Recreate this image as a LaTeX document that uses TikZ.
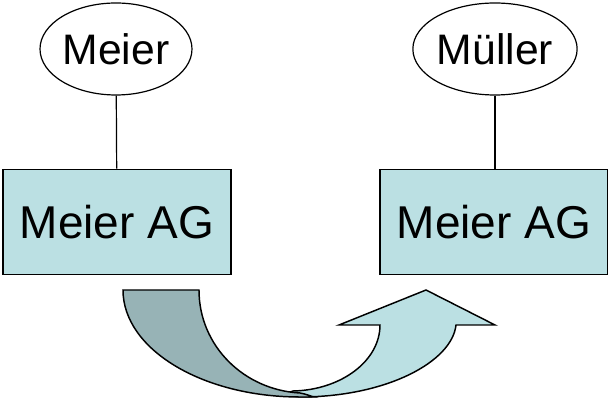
\documentclass[tikz,border=0pt]{standalone}
\usepackage{fontspec}
\setmainfont{Liberation Sans}
\usetikzlibrary{shapes.geometric}
\definecolor{boxblue}{RGB}{187,224,227}
\definecolor{darkblue}{RGB}{151,179,182}
\begin{document}
\begin{tikzpicture}[x=0.75pt,y=-0.75pt,
  person/.style={draw,line width=0.9pt,ellipse,minimum width=114pt,minimum height=69pt,inner sep=0pt,font=\fontsize{32}{36}\selectfont},
  company/.style={draw,line width=1.1pt,fill=boxblue,minimum width=171pt,minimum height=79pt,inner sep=0pt,font=\fontsize{34.5}{40}\selectfont},
  link/.style={line width=0.9pt},
  band/.style={draw,line width=1.1pt,line join=miter}]
\useasboundingbox (0,0) rectangle (608,398);
\node[person] (p1) at (116,49) {Meier};
\node[person] (p2) at (495,49) {Müller};
\node[company] (c1) at (117,222) {Meier AG};
\node[company] (c2) at (494,222) {Meier AG};
\draw[link] (p1) -- (c1);
\draw[link] (p2.south) -- (p2.south |- c2.north);
% curved up arrow: light part
\draw[band,fill=boxblue] (300,397) .. controls (386,397) and (452,362) .. (456,325)
  -- (495,325) -- (426,290) -- (339,325) -- (380,325)
  .. controls (380,361) and (341,390) .. (293,391) -- (282,395) -- cycle;
% dark (back) part
\draw[band,fill=darkblue] (123,290) -- (199,290)
  .. controls (199,346) and (244,390) .. (300,393)
  .. controls (306,394) and (310,396) .. (314,397)
  -- (300,397)
  .. controls (202,397) and (123,349) .. (123,290) -- cycle;
\end{tikzpicture}
\end{document}
